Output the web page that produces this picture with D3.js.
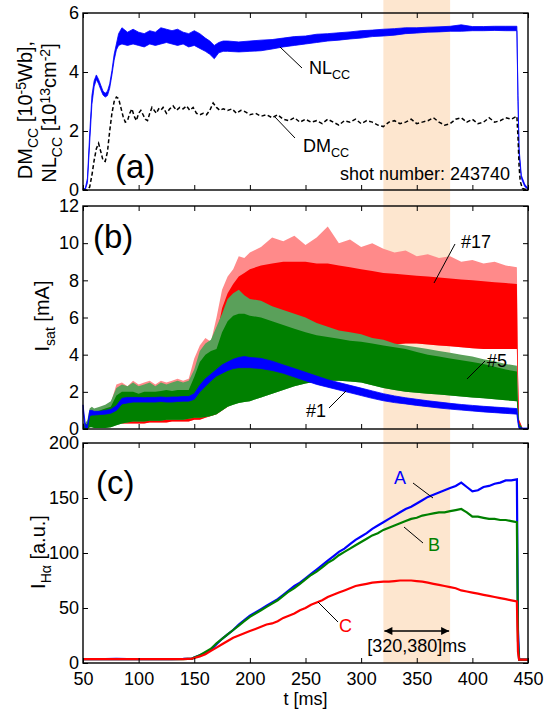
<!DOCTYPE html>
<html>
<head>
<meta charset="utf-8">
<script src="https://cdn.jsdelivr.net/npm/d3@7"></script>
<style>
  body { margin: 0; background: #fff; }
  text { font-family: "Liberation Sans", Arial, sans-serif; }
</style>
</head>
<body>
<div id="chart-area"></div>
<script>

// ---- data ----

// (a) NL_CC band (lower / upper edge of the noisy trace)
var tNL = [50, 52, 54, 56, 58, 60, 62, 64, 66, 68, 70, 72, 74, 76, 78, 80, 82,
  85, 90, 95, 100, 105, 110, 115, 120, 125, 130, 135, 140, 145, 150, 155, 160,
  164, 168, 172, 176,
  180, 190, 200, 210, 220, 230, 240, 250, 260, 270, 280, 290, 300, 310, 320, 330,
  340, 350, 360, 370, 380, 390, 400, 410, 420, 430, 440,
  441, 442, 444, 447, 450]
var nlLo = [0, 0, 0.25, 1.6, 2.9, 3.5, 3.75, 3.6, 3.4, 3.22, 3.15, 3.2, 3.45, 3.9, 4.4, 4.75, 4.9,
  4.95, 4.9, 4.95, 4.9, 4.85, 4.95, 4.9, 4.95, 5.0, 4.95, 4.9, 4.95, 4.85, 4.9, 4.8, 4.7,
  4.6, 4.45, 4.65, 4.7,
  4.7, 4.68, 4.7, 4.72, 4.78, 4.85, 4.9, 4.95, 5.0, 5.05, 5.08, 5.12, 5.15, 5.2, 5.22, 5.25,
  5.3, 5.32, 5.35, 5.36, 5.38, 5.38, 5.4, 5.4, 5.41, 5.4, 5.4,
  3.0, 1.2, 0.4, 0.12, 0.02]
var nlHi = [0.05, 0.05, 0.4, 1.9, 3.2, 3.7, 3.9, 3.75, 3.55, 3.35, 3.28, 3.35, 3.6, 4.05, 4.6, 4.95, 5.3,
  5.5, 5.35, 5.45, 5.35, 5.3, 5.4, 5.35, 5.5, 5.45, 5.4, 5.45, 5.35, 5.3, 5.4, 5.3, 5.15,
  5.05, 4.9, 5.0, 5.05,
  5.05, 5.02, 5.05, 5.08, 5.1, 5.15, 5.2, 5.22, 5.28, 5.3, 5.33, 5.36, 5.4, 5.42, 5.45, 5.47,
  5.5, 5.5, 5.52, 5.53, 5.55, 5.6, 5.54, 5.54, 5.55, 5.55, 5.55,
  3.2, 1.4, 0.5, 0.2, 0.05]

// (a) DM_CC dashed trace
var tDM = [50, 53, 56, 58, 60, 62, 64, 66, 68, 70, 72, 74, 76, 78, 80, 82, 84, 86, 88, 90,
  92, 94, 96, 98, 100, 102, 104, 106, 108, 110, 112, 114, 116, 118, 120, 122, 125, 128,
  131, 134, 137, 140, 143, 146, 149, 152, 155, 158, 161, 164, 167, 170, 173, 176, 180,
  184, 188, 192, 196, 200, 205, 210, 215, 220, 225, 230, 235, 240, 245, 250, 255, 260,
  265, 270, 275, 280, 285, 290, 295, 300, 305, 310, 315, 320, 325, 330, 335, 340, 345,
  350, 355, 360, 365, 370, 375, 380, 385, 390, 395, 400, 405, 410, 415, 420, 425, 430,
  435, 440, 441, 442, 443, 445, 450]
var dm = [0, 0, 0.1, 0.5, 1.0, 1.4, 1.58, 1.3, 1.0, 0.97, 1.3, 2.0, 2.6, 3.0, 3.15, 3.1, 2.8, 2.5, 2.3, 2.35,
  2.6, 2.75, 2.5, 2.35, 2.6, 2.7, 2.55, 2.4, 2.35, 2.6, 2.8, 2.7, 2.6, 2.75, 2.7, 2.8, 2.6, 2.75,
  2.85, 2.7, 2.8, 2.75, 2.85, 2.7, 2.8, 2.6, 2.55, 2.6, 2.55, 2.7, 2.95, 2.8, 2.7, 2.75, 2.7,
  2.75, 2.6, 2.7, 2.65, 2.55, 2.6, 2.5, 2.55, 2.45, 2.55, 2.4, 2.35, 2.45, 2.3, 2.4, 2.3, 2.35,
  2.25, 2.4, 2.3, 2.2, 2.35, 2.3, 2.4, 2.25, 2.35, 2.3, 2.2, 2.15, 2.3, 2.35, 2.25, 2.3, 2.4,
  2.25, 2.3, 2.35, 2.45, 2.3, 2.2, 2.25, 2.4, 2.45, 2.3, 2.4, 2.25, 2.3, 2.45, 2.3, 2.35, 2.45,
  2.4, 2.5, 1.8, 0.8, 0.3, 0.05, 0]

// (b) Isat, probes #1, #5, #17 (lower / upper edges, plus spike envelope)
var tB = [50, 52, 54, 56, 58, 60, 65, 70, 75, 80, 85, 90, 95, 100, 105, 110, 115, 120,
  125, 130, 135, 140, 145, 150, 155, 160, 165, 170, 175, 180, 185, 190, 195, 200,
  210, 220, 230, 240, 250, 260, 270, 280, 290, 300, 310, 320, 330, 340, 350, 360,
  370, 380, 390, 400, 410, 420, 430, 440, 441, 442, 445, 450]
var p1Lo = [0.9, 0.05, 0.05, 0.7, 0.75, 0.75, 0.78, 0.8, 0.85, 1.0, 1.35, 1.4, 1.45, 1.45, 1.45, 1.45, 1.45, 1.48,
  1.45, 1.45, 1.48, 1.5, 1.5, 1.6, 2.0, 2.3, 2.6, 2.85, 3.0, 3.15, 3.25, 3.3, 3.3, 3.3,
  3.25, 3.15, 3.0, 2.8, 2.6, 2.4, 2.25, 2.1, 1.95, 1.8, 1.65, 1.52, 1.42, 1.35, 1.27, 1.2,
  1.13, 1.07, 1.02, 0.97, 0.92, 0.88, 0.84, 0.8, 0.3, 0.02, 0, 0]
var p1Hi = [1.3, 0.3, 0.15, 1.0, 1.0, 0.95, 0.95, 1.0, 1.05, 1.25, 1.65, 1.7, 1.7, 1.7, 1.68, 1.7, 1.7, 1.72,
  1.7, 1.72, 1.72, 1.75, 1.75, 1.9, 2.35, 2.7, 2.95, 3.2, 3.45, 3.6, 3.75, 3.85, 3.9, 3.85,
  3.8, 3.65, 3.45, 3.25, 3.05, 2.85, 2.65, 2.5, 2.35, 2.2, 2.05, 1.9, 1.78, 1.68, 1.6, 1.52,
  1.45, 1.38, 1.32, 1.27, 1.22, 1.18, 1.14, 1.1, 0.6, 0.1, 0.05, 0.05]
var p5Lo = [0, 0, 0, 0.1, 0.1, 0.05, 0.05, 0.05, 0.1, 0.2, 0.3, 0.35, 0.4, 0.4, 0.4, 0.45, 0.45, 0.45,
  0.5, 0.5, 0.5, 0.5, 0.55, 0.6, 0.6, 0.65, 0.7, 0.8, 1.0, 1.2, 1.3, 1.4, 1.45, 1.5,
  1.7, 1.9, 2.1, 2.3, 2.45, 2.55, 2.6, 2.6, 2.55, 2.5, 2.35, 2.2, 2.1, 2.0, 1.95, 1.9,
  1.85, 1.8, 1.75, 1.7, 1.65, 1.6, 1.55, 1.5, 0.5, 0, 0, 0]
var p5Hi = [0.2, 0.2, 0.3, 0.9, 1.0, 0.9, 1.0, 1.1, 1.2, 1.8, 2.0, 2.0, 2.0, 1.9, 2.0, 2.0, 2.0, 2.05,
  2.1, 2.05, 2.1, 2.1, 2.1, 2.8, 3.6, 4.0, 4.2, 4.3, 5.2, 5.8, 6.1, 6.2, 6.2, 6.1,
  6.0, 5.8, 5.6, 5.4, 5.2, 5.05, 4.95, 4.85, 4.75, 4.7, 4.6, 4.5, 4.4, 4.3, 4.15, 4.0,
  3.9, 3.8, 3.7, 3.6, 3.5, 3.35, 3.2, 3.1, 1.2, 0.3, 0.05, 0.05]
var p5Pk = [0.3, 0.3, 0.5, 1.1, 1.2, 1.1, 1.2, 1.3, 1.5, 2.2, 2.4, 2.3, 2.5, 2.3, 2.4, 2.5, 2.3, 2.5,
  2.4, 2.5, 2.6, 2.5, 2.6, 3.2, 4.2, 4.6, 4.8, 5.5, 6.2, 7.0, 7.3, 7.5, 7.2, 7.0,
  6.9, 6.6, 6.4, 6.2, 6.0, 5.7, 5.5, 5.3, 5.2, 5.1, 4.9, 4.8, 4.6, 4.5, 4.4, 4.3,
  4.2, 4.1, 4.0, 3.9, 3.75, 3.65, 3.5, 3.4, 1.4, 0.3, 0.05, 0.05]
var p17Lo = [0, 0, 0, 0.1, 0.3, 0.4, 0.5, 0.5, 0.55, 0.3, 0.3, 0.3, 0.3, 0.3, 0.3, 0.35, 0.35, 0.35,
  0.35, 0.4, 0.4, 0.4, 0.4, 0.5, 0.5, 0.6, 0.7, 0.8, 1.0, 1.2, 1.4, 1.6, 1.7, 1.8,
  2.0, 2.2, 2.5, 2.8, 3.1, 3.4, 3.6, 3.8, 4.0, 4.2, 4.35, 4.45, 4.55, 4.6, 4.6, 4.55,
  4.5, 4.45, 4.4, 4.35, 4.3, 4.3, 4.3, 4.3, 1.0, 0, 0, 0]
var p17Hi = [0.2, 0.2, 0.3, 0.6, 0.8, 0.8, 0.9, 0.9, 1.1, 1.9, 2.1, 2.1, 2.1, 2.0, 2.1, 2.1, 2.1, 2.2,
  2.2, 2.2, 2.2, 2.3, 2.3, 3.0, 3.8, 4.3, 4.5, 5.0, 6.5, 7.3, 7.8, 8.2, 8.4, 8.6,
  8.8, 8.9, 9.0, 9.0, 9.0, 8.9, 8.9, 8.8, 8.7, 8.6, 8.5, 8.4, 8.35, 8.3, 8.25, 8.2,
  8.15, 8.1, 8.05, 8.0, 7.95, 7.9, 7.85, 7.8, 3.0, 0.5, 0.05, 0.05]
var p17Pk = [0.3, 0.3, 0.4, 0.8, 1.0, 1.0, 1.1, 1.1, 1.4, 2.4, 2.5, 2.3, 2.6, 2.4, 2.5, 2.6, 2.4, 2.6,
  2.5, 2.6, 2.7, 2.6, 2.7, 3.8, 4.5, 4.9, 4.7, 6.0, 7.5, 8.2, 8.6, 9.3, 9.2, 9.5,
  9.8, 10.3, 10.1, 10.4, 9.9, 10.3, 10.9, 10.0, 10.2, 9.8, 10.0, 9.7, 9.5, 9.6, 9.3, 9.4,
  9.2, 9.3, 9.0, 9.1, 8.9, 9.0, 8.8, 8.7, 3.2, 0.5, 0.05, 0.05]

// (c) I_Halpha, traces A, B, C
var tC = [50, 60, 70, 80, 90, 100, 110, 120, 130, 140, 148,
  150, 155, 160, 165, 170, 175, 180, 185, 190, 195, 200, 205, 210, 215, 220, 225, 230,
  235, 240, 245, 250, 255, 260, 265, 270, 275, 280, 285, 290, 295, 300, 305, 310, 315,
  320, 325, 330, 335, 340, 345, 350, 355, 360, 365, 370, 375, 380, 385, 390, 395, 400,
  405, 410, 415, 420, 425, 430, 435, 440, 441, 442, 445, 450]
var hA = [3.5, 3.6, 3.5, 3.7, 3.6, 3.5, 3.6, 3.5, 3.6, 3.7, 4,
  5, 7, 9, 12, 17, 22, 26, 30, 35, 39, 43, 46, 49, 52, 55, 58, 62,
  66, 70, 73, 77, 81, 85, 89, 93, 97, 101, 104, 108, 112, 115, 118, 122, 125,
  128, 131, 134, 137, 140, 142, 145, 148, 151, 153, 155, 157, 159, 161, 164, 160, 156,
  157, 160, 161, 163, 164, 166, 166, 167, 30, 3, 3, 3]
var hB = [3.5, 3.5, 3.6, 3.5, 3.6, 3.5, 3.5, 3.6, 3.5, 3.6, 4,
  5, 7, 10, 13, 18, 22, 26, 30, 34, 38, 42, 45, 48, 51, 54, 57, 61,
  65, 68, 72, 76, 80, 83, 87, 91, 94, 98, 101, 104, 107, 110, 113, 116, 118,
  121, 123, 125, 127, 129, 131, 132, 134, 135, 136, 137, 137, 138, 139, 140, 137, 133,
  133, 132, 131, 131, 130, 130, 129, 128, 20, 3, 3, 3]
var hC = [3.5, 3.5, 3.5, 3.6, 3.5, 3.5, 3.6, 3.5, 3.5, 3.6, 4,
  4.5, 6, 8, 11, 14, 17, 20, 23, 25, 27, 29, 31, 33, 35, 36, 38, 41,
  43, 45, 48, 50, 53, 55, 57, 60, 62, 64, 66, 68, 70, 71, 72, 73, 73.5,
  74, 74, 74.5, 75, 75, 75, 74.5, 74, 73, 72, 71, 70, 69, 68, 66, 65, 64,
  63, 62, 61, 60, 59, 58, 57, 56, 10, 3, 3, 3]

var xTicks = [50, 100, 150, 200, 250, 300, 350, 400, 450]
var tWindow = [320, 380]

// ---- layout ----
var width = 552, height = 713
var left = 83, right = 528

var svg = d3.select("#chart-area").append("svg")
    .attr("width", width)
    .attr("height", height)

var x = d3.scaleLinear()
    .domain([50, 450])
    .range([left, right])

var yA = d3.scaleLinear().domain([0, 6]).range([190, 13])
var yB = d3.scaleLinear().domain([0, 12]).range([429, 206])
var yC = d3.scaleLinear().domain([0, 200]).range([663, 443])

// shaded time window, spans all panels
svg.append("rect")
    .attr("x", x(tWindow[0]))
    .attr("y", 0)
    .attr("width", x(tWindow[1]) - x(tWindow[0]))
    .attr("height", yC(0))
    .attr("fill", "#fde6cf")

function band(y, t, lo, hi) {
  return d3.area()
    .x(function(d, i) { return x(t[i]) })
    .y0(function(d, i) { return y(lo[i]) })
    .y1(function(d, i) { return y(hi[i]) })(t)
}

function trace(y, t, v) {
  return d3.line()
    .x(function(d, i) { return x(t[i]) })
    .y(function(d) { return y(d) })(v)
}

// ---- panel (a) ----
svg.append("path")
    .attr("d", band(yA, tNL, nlLo, nlHi))
    .attr("fill", "#0000ff")
    .attr("stroke", "#0000ff")
    .attr("stroke-width", 0.8)

svg.append("path")
    .attr("d", trace(yA, tDM, dm))
    .attr("fill", "none")
    .attr("stroke", "#000")
    .attr("stroke-width", 1.5)
    .attr("stroke-dasharray", "4,2.5")

// ---- panel (b) ----
svg.append("path").attr("d", band(yB, tB, p17Lo, p17Pk)).attr("fill", "#ff8a8a")
svg.append("path").attr("d", band(yB, tB, p17Lo, p17Hi)).attr("fill", "#ff0000")
svg.append("path").attr("d", band(yB, tB, p5Lo, p5Pk)).attr("fill", "#5aa05a")
svg.append("path").attr("d", band(yB, tB, p5Lo, p5Hi)).attr("fill", "#008000")
svg.append("path")
    .attr("d", band(yB, tB, p1Lo, p1Hi))
    .attr("fill", "#0000ff")
    .attr("stroke", "#0000ff")
    .attr("stroke-width", 0.8)

// ---- panel (c) ----
var cSeries = [[hA, "#0000ff"], [hB, "#008000"], [hC, "#ff0000"]]
cSeries.forEach(function(s) {
  svg.append("path")
    .attr("d", trace(yC, tC, s[0]))
    .attr("fill", "none")
    .attr("stroke", s[1])
    .attr("stroke-width", 2.2)
})

// ---- frames and axes ----
function frame(y, yTicks, xLabels) {
  var top = y.range()[1], bottom = y.range()[0]

  var gl = svg.append("g")
      .attr("class", "y axis")
      .attr("transform", "translate(" + left + ",0)")
      .call(d3.axisLeft(y).tickValues(yTicks).tickSizeInner(-5).tickSizeOuter(0).tickPadding(4)
        .tickFormat(function(d) { return d }))
  var gr = svg.append("g")
      .attr("transform", "translate(" + right + ",0)")
      .call(d3.axisRight(y).tickValues(yTicks).tickSizeInner(-5).tickSizeOuter(0).tickFormat(""))
  var gt = svg.append("g")
      .attr("transform", "translate(0," + top + ")")
      .call(d3.axisTop(x).tickValues(xTicks).tickSizeInner(-5).tickSizeOuter(0).tickFormat(""))
  var gb = svg.append("g")
      .attr("class", "x axis")
      .attr("transform", "translate(0," + bottom + ")")
      .call(d3.axisBottom(x).tickValues(xTicks).tickSizeInner(-5).tickSizeOuter(0).tickPadding(9)
        .tickFormat(xLabels ? function(d) { return d } : ""))

  ;[gl, gr, gt, gb].forEach(function(g) {
    g.select(".domain").remove()
    g.selectAll("line").attr("stroke", "#000")
    g.selectAll("text")
      .attr("font-size", "18px")
      .attr("fill", "#000")
      .attr("font-family", '"Liberation Sans", Arial, sans-serif')
  })

  svg.append("rect")
      .attr("x", left)
      .attr("y", top)
      .attr("width", right - left)
      .attr("height", bottom - top)
      .attr("fill", "none")
      .attr("stroke", "#000")
      .attr("stroke-width", 1.4)
}

frame(yA, [0, 2, 4, 6], false)
frame(yB, [0, 2, 4, 6, 8, 10, 12], false)
frame(yC, [0, 50, 100, 150, 200], true)

// ---- texts ----
function label(xp, yp, parts, size, color, anchor) {
  var t = svg.append("text")
      .attr("x", xp)
      .attr("y", yp)
      .attr("font-size", size + "px")
      .attr("fill", color || "#000")
      .attr("text-anchor", anchor || "start")
  var shift = 0
  parts.forEach(function(p) {
    // p: [string, 0 normal | 1 sub | -1 sup]
    var want = p[1] * size * 0.3
    t.append("tspan")
      .attr("dy", want - shift)
      .attr("font-size", (p[1] ? size * 0.7 : size) + "px")
      .text(p[0])
    shift = want
  })
  return t
}

function leader(x1, y1, x2, y2) {
  svg.append("line")
    .attr("x1", x1).attr("y1", y1)
    .attr("x2", x2).attr("y2", y2)
    .attr("stroke", "#000")
    .attr("stroke-width", 1)
}

// panel tags
svg.append("text").attr("x", 115).attr("y", 178).attr("font-size", "33px").text("(a)")
svg.append("text").attr("x", 93).attr("y", 248).attr("font-size", "33px").text("(b)")
svg.append("text").attr("x", 96).attr("y", 494).attr("font-size", "33px").text("(c)")

// y labels (rotated)
label(0, 0, [["DM", 0], ["CC", 1], [" [10", 0], ["-5", -1], ["Wb],", 0]], 20)
  .attr("text-anchor", "middle")
  .attr("transform", "translate(32,110) rotate(-90)")
label(0, 0, [["NL", 0], ["CC", 1], [" [10", 0], ["13", -1], ["cm", 0], ["-2", -1], ["]", 0]], 20)
  .attr("text-anchor", "middle")
  .attr("transform", "translate(56,113) rotate(-90)")
label(0, 0, [["I", 0], ["sat", 1], [" [mA]", 0]], 20)
  .attr("text-anchor", "middle")
  .attr("transform", "translate(49,316) rotate(-90)")
label(0, 0, [["I", 0], ["H\u03b1", 1], [" [a.u.]", 0]], 20)
  .attr("text-anchor", "middle")
  .attr("transform", "translate(45,552) rotate(-90)")

// x label
svg.append("text")
    .attr("x", x(250))
    .attr("y", 705)
    .attr("font-size", "18px")
    .attr("text-anchor", "middle")
    .text("t [ms]")

// (a) annotations
leader(280, 47, 302, 68)
label(309, 74, [["NL", 0], ["CC", 1]], 18)
leader(274, 116, 295, 138)
label(303, 152, [["DM", 0], ["CC", 1]], 18)
svg.append("text")
    .attr("x", 510)
    .attr("y", 180)
    .attr("font-size", "18px")
    .attr("text-anchor", "end")
    .text("shot number: 243740")

// (b) annotations
leader(455, 244, 434, 283)
label(461, 248, [["#17", 0]], 18)
leader(485, 361, 467, 379)
label(487, 367, [["#5", 0]], 18)
leader(329, 408, 346, 391)
label(306, 417, [["#1", 0]], 18)

// (c) annotations
leader(413, 483, 433, 498)
label(394, 484, [["A", 0]], 18, "#0000ff")
leader(423, 543, 404, 527)
label(428, 551, [["B", 0]], 18, "#008000")
leader(338, 622, 318, 602)
label(339, 632, [["C", 0]], 18, "#ff0000")

// time window arrow
var defs = svg.append("defs")
defs.append("marker")
    .attr("id", "head")
    .attr("viewBox", "0 0 10 10")
    .attr("refX", 10).attr("refY", 5)
    .attr("markerWidth", 10).attr("markerHeight", 8)
    .attr("markerUnits", "userSpaceOnUse")
    .attr("orient", "auto-start-reverse")
  .append("path")
    .attr("d", "M0,0 L10,5 L0,10 Z")
    .attr("fill", "#000")

svg.append("line")
    .attr("x1", x(tWindow[0]) + 1).attr("y1", 631)
    .attr("x2", x(tWindow[1]) - 1).attr("y2", 631)
    .attr("stroke", "#000")
    .attr("stroke-width", 1.5)
    .attr("marker-start", "url(#head)")
    .attr("marker-end", "url(#head)")

svg.append("text")
    .attr("x", x(350))
    .attr("y", 652)
    .attr("font-size", "18px")
    .attr("text-anchor", "middle")
    .text("[320,380]ms")

</script>
</body>
</html>
